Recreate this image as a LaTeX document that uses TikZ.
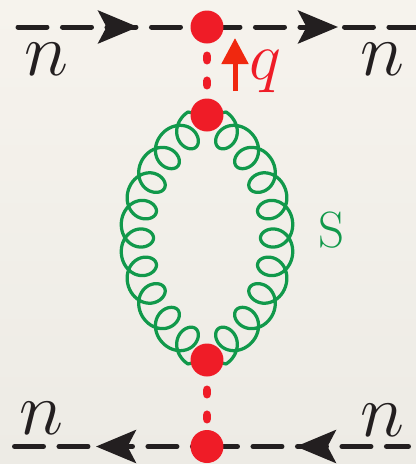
\documentclass[tikz,border=0pt]{standalone}
\usepackage{amsmath,amssymb}
\usepackage{xcolor}
\usetikzlibrary{arrows.meta, backgrounds}
\definecolor{paperTop}{HTML}{F6F3ED}
\definecolor{paperBot}{HTML}{EDEBE5}
\definecolor{vertexRed}{HTML}{EF1C27}
\definecolor{arrowRed}{HTML}{F0280F}
\definecolor{gluonGreen}{HTML}{11994B}
\definecolor{lineBlack}{HTML}{231F20}
\tikzset{
  % Diagram styles
  vertex/.style={circle, fill=vertexRed, inner sep=0pt, minimum size=0.66cm},
  fermion/.style={draw=lineBlack, line width=0.1cm, line cap=round, dash pattern=on 0.58cm off 0.31cm},
  fermionhead/.style={draw=lineBlack, line width=0.1cm, -{Stealth[length=0.8cm, width=0.66cm, inset=0.17cm]}},
  scalar/.style={draw=vertexRed, line width=0.18cm, line cap=round, dash pattern=on 0.08cm off 0.42cm},
  gluon/.style={draw=gluonGreen, line width=0.065cm, line join=round},
  momentum/.style={draw=arrowRed, line width=0.1cm, -{Triangle[length=0.52cm, width=0.52cm]}},
  nlabel/.style={text=lineBlack, font=\Huge, scale=1.72, inner sep=0pt},
  qlabel/.style={text=vertexRed, font=\Huge, scale=1.55, inner sep=0pt},
  slabel/.style={text=gluonGreen, font=\fontsize{29}{29}\selectfont, inner sep=0pt},
}
\begin{document}
\begin{tikzpicture}[x=0.02cm, y=-0.02cm,
    declare function={
      gphi(\t)=180+28.8*\t;
      gr(\t)=135+16.5*cos(gphi(\t));
      ga(\t)=\t+6.8*sin(gphi(\t));
    }]
    \useasboundingbox (0,0) rectangle (416,464);
    % Line ends, 416 x 464 px
    \coordinate (topL) at (18,27);
    \coordinate (topR) at (416,27);
    \coordinate (botL) at (14.5,446.5);
    \coordinate (botR) at (408.5,446.5);
    % Vertices
    \node[vertex] (vTop) at (207,27) {};
    \node[vertex] (vUp) at (207,115) {};
    \node[vertex] (vDown) at (207,360) {};
    \node[vertex] (vBot) at (207,446.5) {};
    \begin{pgfonlayer}{background}
      % Paper
      \shade[top color=paperTop, bottom color=paperBot] (0,0) rectangle (416,464);
      % Gluon loop
      \foreach \s in {1,-1} {
        \draw[gluon] (vDown.center) -- plot[domain=-56.25:56.25, samples=433]
          ({207+\s*(65-gr(\x)*cos(ga(\x)))},{238-gr(\x)*sin(ga(\x))}) -- (vUp.center);
      }
      % Scalar exchange
      \draw[scalar, dash phase=0.42cm] (vTop.center) -- (vUp.center);
      \draw[scalar, dash phase=0.40cm] (vDown.center) -- (vBot.center);
      % Fermion lines
      \draw[fermion] (topL) -- (vTop.center);
      \draw[fermion, dash phase=0.81cm] (vTop.center) -- (topR);
      \draw[fermion] (botL) -- (vBot.center);
      \draw[fermion, dash phase=0.86cm] (vBot.center) -- (botR);
    \end{pgfonlayer}
    % Arrow heads
    \foreach \a/\b in {115/138, 315/338} {
      \coordinate (hS) at (\a,27);
      \coordinate (hE) at (\b,27);
      \draw[fermionhead] (hS) -- (hE);
    }
    \foreach \a/\b in {118/96, 318/296} {
      \coordinate (hS) at (\a,446.5);
      \coordinate (hE) at (\b,446.5);
      \draw[fermionhead] (hS) -- (hE);
    }
    % Momentum arrow
    \coordinate (qS) at (235,91);
    \coordinate (qE) at (235,38);
    \draw[momentum] (qS) -- (qE);
    % Labels
    \node[nlabel] (nTL) at (46,59) {$n$};
    \node[nlabel] (nTR) at (382,59) {$n$};
    \node[nlabel] (nBL) at (41,418) {$n$};
    \node[nlabel] (nBR) at (382,420) {$n$};
    \node[qlabel] (qLabel) at (265,71) {$q$};
    \node[slabel] (sLabel) at (332,230) {S};
  \end{tikzpicture}
\end{document}
